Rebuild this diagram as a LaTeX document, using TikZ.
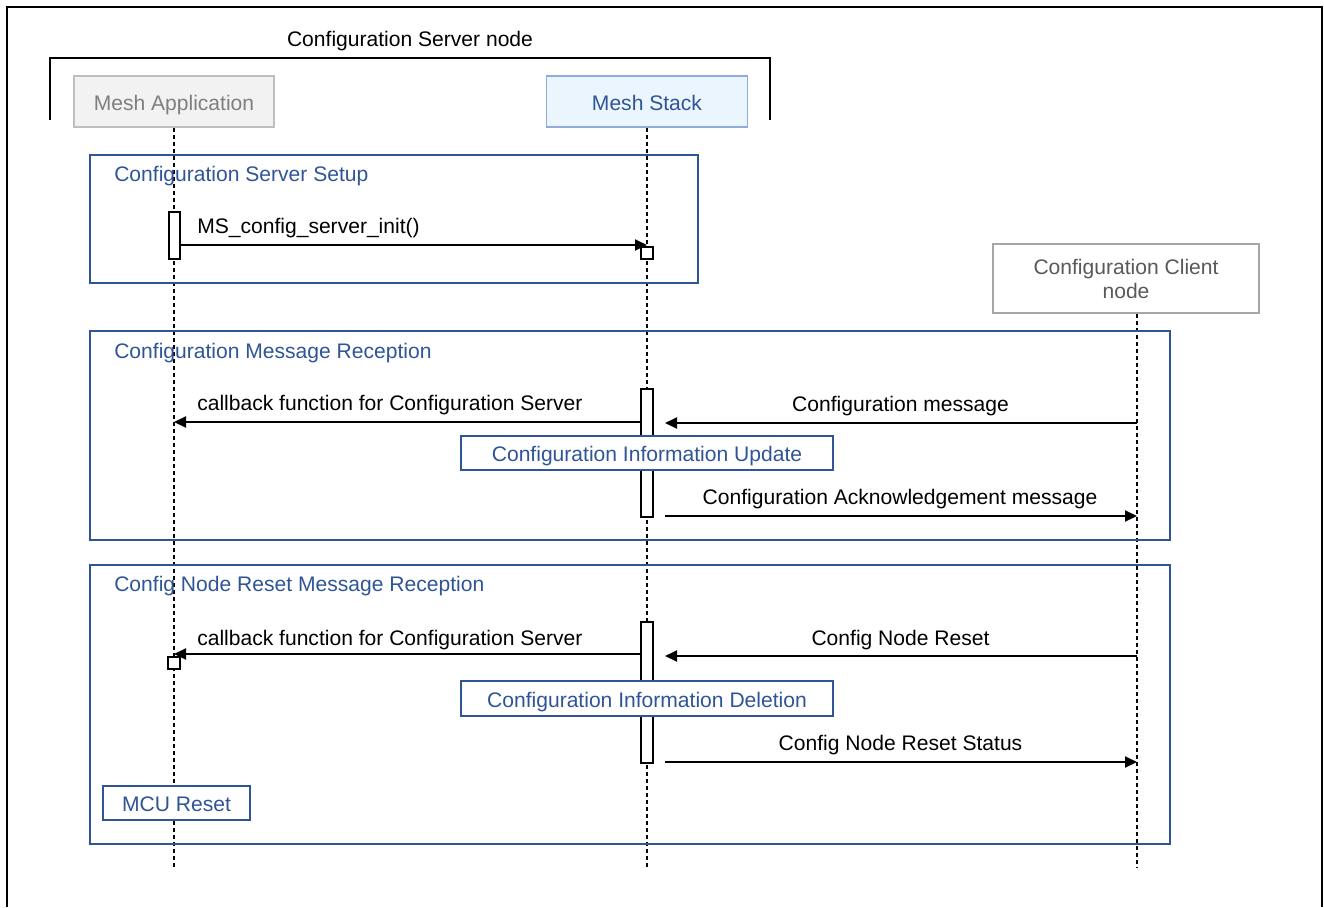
\documentclass[tikz,border=0pt]{standalone}
\usepackage{fontspec}
\setmainfont{Liberation Sans}
\usetikzlibrary{arrows.meta}
\definecolor{blueC}{HTML}{2F5597}
\definecolor{stackfill}{HTML}{EAF5FD}
\definecolor{stackdraw}{HTML}{8FAADC}
\definecolor{appfill}{HTML}{F2F2F2}
\definecolor{appdraw}{HTML}{BFBFBF}
\definecolor{apptext}{HTML}{7F7F7F}
\definecolor{cldraw}{HTML}{A6A6A6}
\definecolor{cltext}{HTML}{595959}
\tikzset{
  thick2/.style={line width=1.5pt},
  lifeline/.style={draw=black, line width=1.5pt, dash pattern=on 3pt off 2.25pt},
  boxtxt/.style={inner sep=0pt, text height=12.75pt, text depth=0pt},
  appbox/.style={boxtxt, draw=appdraw, fill=appfill, text=apptext, line width=1.2pt},
  stackbox/.style={boxtxt, draw=stackdraw, fill=stackfill, text=blueC, line width=1.2pt},
  clientbox/.style={inner sep=0pt, draw=cldraw, fill=white, text=cltext, line width=1.2pt, align=center},
  frame/.style={draw=blueC, line width=1.5pt, inner sep=0pt},
  infobox/.style={boxtxt, draw=blueC, fill=white, text=blueC, line width=1.5pt},
  actbox/.style={draw=black, fill=white, line width=1.5pt, inner sep=0pt},
  msg/.style={line width=1.5pt, -{Triangle[length=9pt,width=8.25pt]}},
  lbl/.style={anchor=base west, inner sep=0pt},
  clbl/.style={anchor=base, inner sep=0pt}
}
\begin{document}
\begin{tikzpicture}[x=0.75pt, y=-0.75pt, font=\fontsize{15.8}{18}\selectfont]
\useasboundingbox (0,0) rectangle (1324,907);
% outer frame
\coordinate (ofbl) at (7,907);
\coordinate (ofbr) at (1322,907);
\draw[thick2] (ofbl) -- (ofbl |- 0,7) -- (ofbr |- 0,7) -- (ofbr);
% server node bracket
\coordinate (brl) at (50,120);
\coordinate (brr) at (770,120);
\draw[thick2] (brl) -- (brl |- 0,58) -- (brr |- 0,58) -- (brr);
\node[clbl] (srvlbl) at (410,46.5) {Configuration Server node};

% participants
\node[appbox, minimum width=150pt, minimum height=38.25pt] (app) at (174,101.5) {Mesh Application};
\node[stackbox, minimum width=150.75pt, minimum height=38.25pt] (stack) at (647,101.5) {Mesh Stack};
\node[clientbox, minimum width=199.5pt, minimum height=51.75pt] (client) at (1126,278.5) {Configuration Client\\node};

% lifelines
\coordinate (append) at (174,867);
\coordinate (stackend) at (647,867);
\coordinate (clend) at (1137,867);
\draw[lifeline] (app.south) -- (append);
\draw[lifeline] (stack.south) -- (stackend);
\draw[lifeline] (clend |- client.south) -- (clend);

% frames
\node[frame, minimum width=456pt, minimum height=96pt] (sec1) at (394,219) {};
\node[lbl, text=blueC] (sec1lbl) at (114,181) {Configuration Server Setup};
\node[frame, minimum width=810pt, minimum height=157.1pt] (sec2) at (630,435.75) {};
\node[lbl, text=blueC] (sec2lbl) at (114,358) {Configuration Message Reception};
\node[frame, minimum width=810pt, minimum height=209.25pt] (sec3) at (630,704.5) {};
\node[lbl, text=blueC] (sec3lbl) at (114,591) {Config Node Reset Message Reception};

% activations
\node[actbox, minimum width=8.25pt, minimum height=35.25pt] (act1) at (174,235.5) {};
\node[actbox, minimum width=9pt, minimum height=9pt] (sq1) at (647,253) {};
\node[actbox, minimum width=9pt, minimum height=96pt] (act2) at (647,453) {};
\node[actbox, minimum width=9pt, minimum height=105.75pt] (act3) at (647,692.5) {};
\node[actbox, minimum width=9pt, minimum height=9pt] (sq2) at (174,663) {};
\coordinate (s2r) at (665,453);
\coordinate (s3r) at (665,692);

% section 1
\coordinate (m1) at (0,245);
\draw[msg] (act1.east |- m1) -- (sq1 |- m1);
\node[lbl] (m1lbl) at (197,233) {MS\_config\_server\_init()};

% section 2
\coordinate (m2) at (0,422);
\draw[msg] (act2.west |- m2) -- (append |- m2);
\node[lbl] (m2lbl) at (197,410) {callback function for Configuration Server};
\coordinate (m3) at (0,423);
\draw[msg] (clend |- m3) -- (s2r |- m3);
\node[clbl] (m3lbl) at (900.5,411) {Configuration message};
\node[infobox, minimum width=279pt, minimum height=25.5pt] (upd) at (647,453) {Configuration Information Update};
\coordinate (m4) at (0,516);
\draw[msg] (s2r |- m4) -- (clend |- m4);
\node[clbl] (m4lbl) at (900,504) {Configuration Acknowledgement message};

% section 3
\coordinate (m5) at (0,654);
\draw[msg] (act3.west |- m5) -- (sq2 |- m5);
\node[lbl] (m5lbl) at (197,645) {callback function for Configuration Server};
\coordinate (m6) at (0,656);
\draw[msg] (clend |- m6) -- (s3r |- m6);
\node[clbl] (m6lbl) at (900.5,645) {Config Node Reset};
\node[infobox, minimum width=279pt, minimum height=26.25pt] (del) at (647,698.5) {Configuration Information Deletion};
\coordinate (m7) at (0,762);
\draw[msg] (s3r |- m7) -- (clend |- m7);
\node[clbl] (m7lbl) at (900.5,750) {Config Node Reset Status};
\node[infobox, minimum width=110.25pt, minimum height=25.5pt] (mcu) at (176.5,803) {MCU Reset};
\end{tikzpicture}
\end{document}
